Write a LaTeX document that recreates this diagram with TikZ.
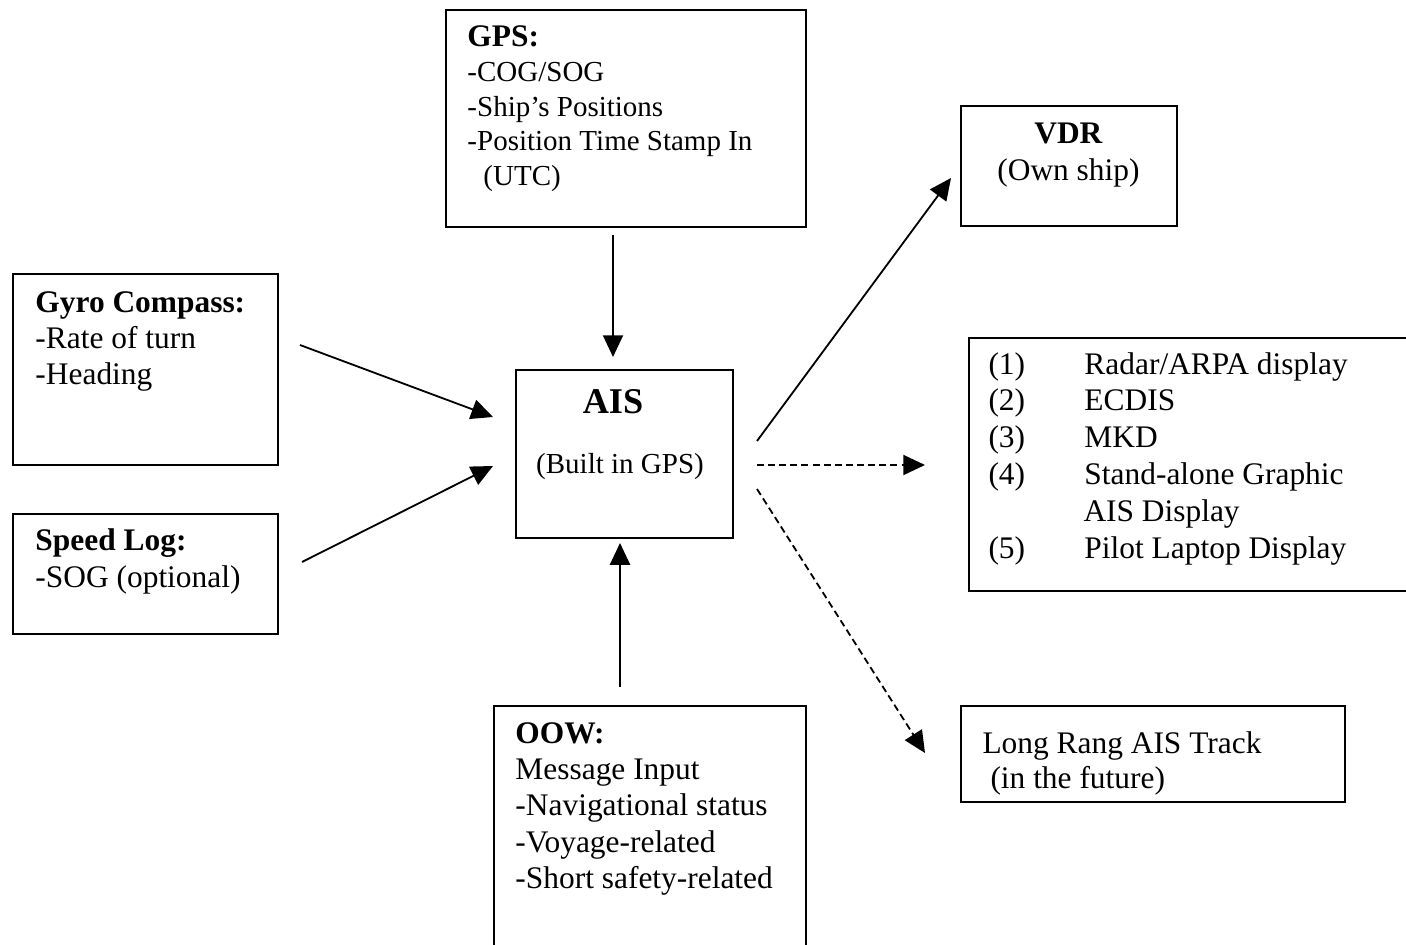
\documentclass[tikz,border=0pt]{standalone}
\usepackage{fontspec}
\setmainfont{Liberation Serif}
\usetikzlibrary{arrows.meta}
\newlength\pxl
\setlength\pxl{0.4138pt}

\begin{document}
\begin{tikzpicture}[x=0.4138pt, y=-0.4138pt,
    box/.style={draw, line width=0.8pt, anchor=north west, inner sep=0pt},
    txt/.style={anchor=base west, align=flush left, inner sep=0pt, text width=420\pxl},
    feed/.style={line width=0.75pt, -{Triangle[length=9pt, width=8.3pt]}},
    feedd/.style={feed, dash pattern=on 2.9pt off 1.7pt}]
    \clip (0,0) rectangle (1406,944);

    \node[box, minimum width=360\pxl, minimum height=217\pxl] (gps) at (445,9) {};
    \node[box, minimum width=265\pxl, minimum height=191\pxl] (gyro) at (12,273) {};
    \node[box, minimum width=265\pxl, minimum height=120\pxl] (speed) at (12,513) {};
    \node[box, minimum width=217\pxl, minimum height=168\pxl] (ais) at (515,369) {};
    \node[box, minimum width=216\pxl, minimum height=120\pxl] (vdr) at (960,105) {};
    \node[box, minimum width=500\pxl, minimum height=253\pxl] (disp) at (968,337) {};
    \node[box, minimum width=312\pxl, minimum height=300\pxl] (oow) at (493,705) {};
    \node[box, minimum width=384\pxl, minimum height=96\pxl] (lrit) at (960,705) {};

    \node[txt, font=\fontsize{12}{14.3}\selectfont] (gps-text) at (467,47)
        {{\fontsize{13}{14.3}\selectfont\bfseries GPS:}\\-COG/SOG\\-Ship's Positions\\-Position Time Stamp In\\\hspace*{16\pxl}(UTC)};
    \node[txt, font=\fontsize{13}{14.9}\selectfont] (gyro-text) at (35,312)
        {\textbf{Gyro Compass:}\\-Rate of turn\\-Heading};
    \node[txt, font=\fontsize{13}{15.7}\selectfont] (speed-text) at (35,550)
        {\textbf{Speed Log:}\\-SOG (optional)};
    \node[anchor=base, inner sep=0pt, font=\fontsize{15}{18}\selectfont\bfseries] (ais-title) at (613,413) {AIS};
    \node[anchor=base, inner sep=0pt, font=\fontsize{12}{14.3}\selectfont] (ais-note) at (620,473) {(Built in GPS)};
    \node[txt, align=flush center, text width=216\pxl, font=\fontsize{13}{15.7}\selectfont] (vdr-text) at (960,143)
        {\textbf{VDR}\\(Own ship)};
    \node[txt, font=\fontsize{13}{15.3}\selectfont] (disp-text) at (988,374)
        {\makebox[96\pxl][l]{(1)}Radar/ARPA display\\
         \makebox[96\pxl][l]{(2)}ECDIS\\
         \makebox[96\pxl][l]{(3)}MKD\\
         \makebox[96\pxl][l]{(4)}Stand-alone Graphic\\
         \hspace*{95\pxl}AIS Display\\
         \makebox[96\pxl][l]{(5)}Pilot Laptop Display};
    \node[txt, font=\fontsize{13}{15.1}\selectfont] (oow-text) at (515,743)
        {\textbf{OOW:}\\Message Input\\-Navigational status\\-Voyage-related\\-Short safety-related};
    \node[txt, font=\fontsize{13}{14.5}\selectfont] (lrit-text) at (982,753)
        {Long Rang AIS Track\\\hspace*{8\pxl}(in the future)};

    \coordinate (gps-out) at (613,235);
    \coordinate (ais-in-n) at (613,357);
    \coordinate (gyro-out) at (300,345);
    \coordinate (ais-in-w1) at (493,417);
    \coordinate (speed-out) at (302,562);
    \coordinate (ais-in-w2) at (493,466);
    \coordinate (oow-out) at (620,687);
    \coordinate (ais-in-s) at (620,543);
    \coordinate (ais-out-1) at (757,441);
    \coordinate (vdr-in) at (951,178);
    \coordinate (ais-out-2) at (757,465);
    \coordinate (disp-in) at (925,465);
    \coordinate (ais-out-3) at (757,489);
    \coordinate (lrit-in) at (925,753);

    \draw[feed] (gps-out) -- (ais-in-n);
    \draw[feed] (gyro-out) -- (ais-in-w1);
    \draw[feed] (speed-out) -- (ais-in-w2);
    \draw[feed] (oow-out) -- (ais-in-s);
    \draw[feed] (ais-out-1) -- (vdr-in);
    \draw[feedd] (ais-out-2) -- (disp-in);
    \draw[feedd] (ais-out-3) -- (lrit-in);
\end{tikzpicture}
\end{document}
